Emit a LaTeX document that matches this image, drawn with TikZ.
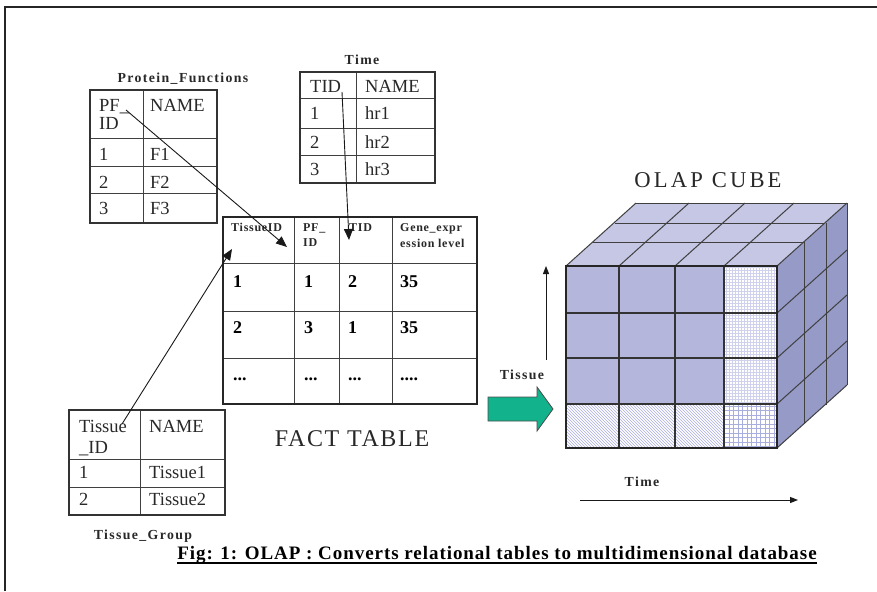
\documentclass[tikz,border=0pt]{standalone}
\usepackage{fontspec}
\setmainfont{Liberation Serif}
\usetikzlibrary{arrows.meta,patterns}

\definecolor{cubefront}{RGB}{180,182,219}
\definecolor{cubetop}{RGB}{197,199,229}
\definecolor{cubeside}{RGB}{150,154,199}
\definecolor{hatchcol}{RGB}{170,174,222}
\definecolor{finegrid}{RGB}{208,210,237}
\definecolor{arrowgreen}{RGB}{18,178,140}
\definecolor{inkgray}{RGB}{40,40,40}

% coarse square grid used for the corner cell of the cube
\pgfdeclarepatternformonly{coarsegrid}{\pgfqpoint{-1pt}{-1pt}}{\pgfqpoint{5.5pt}{5.5pt}}{\pgfqpoint{4.5pt}{4.5pt}}{%
  \pgfsetlinewidth{1pt}%
  \pgfpathmoveto{\pgfqpoint{0pt}{0pt}}\pgfpathlineto{\pgfqpoint{4.5pt}{0pt}}%
  \pgfpathmoveto{\pgfqpoint{0pt}{0pt}}\pgfpathlineto{\pgfqpoint{0pt}{4.5pt}}%
  \pgfusepath{stroke}}

\newcommand\celltxt{\fontsize{18.5}{19}\selectfont}
\newcommand\headtxt{\fontsize{12}{13}\selectfont\bfseries\addfontfeature{LetterSpace=6}}
\newcommand\datatxt{\fontsize{18}{19}\selectfont\bfseries}
\newcommand\labtxt{\fontsize{13.8}{15}\selectfont\bfseries\addfontfeature{LetterSpace=10}}

\tikzset{
  tabout/.style={line width=2.2pt, draw=black!80},
  tabin/.style={line width=1pt, draw=black!75},
  cell/.style={anchor=base west, inner sep=0pt, font=\celltxt, text=inkgray},
  hcell/.style={anchor=base west, inner sep=0pt, font=\headtxt, text=inkgray},
  dcell/.style={anchor=base west, inner sep=0pt, font=\datatxt, text=black},
  lab/.style={anchor=base, inner sep=0pt, font=\labtxt, text=inkgray},
  conn/.style={line width=0.9pt, draw=black!90, -{Triangle[length=11pt,width=9pt]}},
  axis/.style={line width=1pt, draw=black!90, -{Triangle[length=8pt,width=6pt]}},
  cubeline/.style={line width=1pt, draw=black!75},
}

\begin{document}
\begin{tikzpicture}[x=1pt,y=-1pt]
\useasboundingbox (0,0) rectangle (877,591);

% page frame
\draw[line width=2.4pt, black!85] (5,591) -- (5,7) -- (877,7);

% ---------------- Protein_Functions table
\draw[tabin] (143,90) -- (143,223) (90,138) -- (217,138) (90,166) -- (217,166) (90,193) -- (217,193);
\draw[tabout] (90,90) rectangle (217,223);
\node[lab] (pftitle) at (183,83) {Protein\_Functions};
\node[cell] (pfa) at (99,112) {PF\_};
\node[cell] (pfb) at (99,129) {ID};
\node[cell] (pfn) at (150,112) {NAME};
\node[cell] (pf1) at (99,160) {1};
\node[cell] (pf1n) at (150,160) {F1};
\node[cell] (pf2) at (99,188) {2};
\node[cell] (pf2n) at (150,188) {F2};
\node[cell] (pf3) at (99,214) {3};
\node[cell] (pf3n) at (150,214) {F3};

% ---------------- Time table
\draw[tabin] (356,72) -- (356,183) (300,99) -- (435,99) (300,128) -- (435,128) (300,155) -- (435,155);
\draw[tabout] (300,72) rectangle (435,183);
\node[lab] (ttitle) at (362,65) {Time};
\node[cell] (tid) at (310,93) {TID};
\node[cell] (tname) at (365,93) {NAME};
\node[cell] (t1) at (310,120) {1};
\node[cell] (t1n) at (365,120) {hr1};
\node[cell] (t2) at (310,148) {2};
\node[cell] (t2n) at (365,148) {hr2};
\node[cell] (t3) at (310,175) {3};
\node[cell] (t3n) at (365,175) {hr3};

% ---------------- Tissue_Group table
\draw[tabin] (140,410) -- (140,515) (69,459) -- (225,459) (69,487) -- (225,487);
\draw[tabout] (69,410) rectangle (225,515);
\node[cell] (tga) at (79,432) {Tissue};
\node[cell] (tgb) at (79,453) {\_ID};
\node[cell] (tgn) at (149,432) {NAME};
\node[cell] (tg1) at (79,478) {1};
\node[cell] (tg1n) at (149,478) {Tissue1};
\node[cell] (tg2) at (79,505) {2};
\node[cell] (tg2n) at (149,505) {Tissue2};
\node[lab] (tgtitle) at (143,539) {Tissue\_Group};

% ---------------- Fact table
\draw[tabin] (294,217) -- (294,404) (339,217) -- (339,404) (392,217) -- (392,404)
  (223,263) -- (477,263) (223,311) -- (477,311) (223,358) -- (477,358);
\draw[line width=2.6pt, draw=black!85] (223,217) rectangle (477,404);
\node[hcell] (fh1) at (231,231) {TissueID};
\node[hcell] (fh2a) at (303,231) {PF\_};
\node[hcell] (fh2b) at (303,246) {ID};
\node[hcell] (fh3) at (349,231) {TID};
\node[hcell] (fh4a) at (400,231) {Gene\_expr};
\node[hcell] (fh4b) at (400,247) {ession level};
\node[dcell] (f11) at (233,287) {1};
\node[dcell] (f12) at (304,287) {1};
\node[dcell] (f13) at (348,287) {2};
\node[dcell] (f14) at (400,287) {35};
\node[dcell] (f21) at (233,333) {2};
\node[dcell] (f22) at (304,333) {3};
\node[dcell] (f23) at (348,333) {1};
\node[dcell] (f24) at (400,333) {35};
\node[dcell] (f31) at (233,380) {...};
\node[dcell] (f32) at (304,380) {...};
\node[dcell] (f33) at (348,380) {...};
\node[dcell] (f34) at (400,380) {....};
\node[anchor=base, inner sep=0pt, font=\fontsize{24}{26}\selectfont\addfontfeature{LetterSpace=7}, text=inkgray] (facttitle) at (352,446) {FACT TABLE};

% ---------------- key connectors
\coordinate (pfsrc) at (126,110);
\coordinate (pftgt) at (287,247);
\draw[conn] (pfsrc) -- (pftgt);
\coordinate (tidsrc) at (342,92);
\coordinate (tidtgt) at (349,240);
\draw[conn] (tidsrc) -- (tidtgt);
\coordinate (tgsrc) at (122,424);
\coordinate (tgtgt) at (232,249);
\draw[conn] (tgsrc) -- (tgtgt);

% ---------------- OLAP cube
\node[anchor=base, inner sep=0pt, font=\fontsize{22.6}{24}\selectfont\addfontfeature{LetterSpace=14}, text=inkgray] (cubetitle) at (708,187) {OLAP CUBE};

% top face
\fill[cubetop] (566,266) -- (777,266) -- (847,203) -- (636,203) -- cycle;
\foreach \x in {566,619,675,724} \draw[cubeline] (\x,266) -- ++(70,-63);
\foreach \dx/\dy in {27/-24,49/-43,70/-63} \draw[cubeline] (566+\dx,266+\dy) -- (777+\dx,266+\dy);

% right face
\fill[cubeside] (777,266) -- (847,203) -- (847,385) -- (777,448) -- cycle;
\foreach \y in {266,313,358,404,448} \draw[cubeline] (777,\y) -- ++(70,-63);
\foreach \dx/\dy in {27/-24,49/-43,70/-63} \draw[cubeline] (777+\dx,266+\dy) -- (777+\dx,448+\dy);

% front face
\fill[cubefront] (566,266) rectangle (724,404);
\fill[white] (724,266) rectangle (777,404);
\fill[pattern=grid, pattern color=finegrid] (724,266) rectangle (777,404);
\fill[white] (566,404) rectangle (777,448);
\fill[pattern=north west lines, pattern color=hatchcol] (566,404) rectangle (724,448);
\fill[pattern=coarsegrid, pattern color=hatchcol] (724,404) rectangle (777,448);
\draw[line width=1.4pt, draw=black!80] (619,266) -- (619,448) (675,266) -- (675,448) (724,266) -- (724,448)
  (566,313) -- (777,313) (566,358) -- (777,358) (566,404) -- (777,404);
\draw[line width=2.8pt, draw=black!85] (566,266) rectangle (777,448);

% axes and labels
\coordinate (tisaxA) at (546,360);
\coordinate (tisaxB) at (546,266);
\draw[axis] (tisaxA) -- (tisaxB);
\node[lab] (tislab) at (522,379) {Tissue};
\coordinate (timeaxA) at (580,500);
\coordinate (timeaxB) at (798,500);
\draw[axis] (timeaxA) -- (timeaxB);
\node[lab] (timelab) at (642,486) {Time};

% green block arrow
\draw[line width=0.8pt, draw=black!70, fill=arrowgreen] (488,397) -- (537,397) -- (537,387) -- (553,409)
  -- (537,431) -- (537,421) -- (488,421) -- cycle;

% ---------------- caption
\node[anchor=base, inner sep=0pt, font=\fontsize{19}{21}\selectfont\bfseries\addfontfeature{LetterSpace=5}, text=black] (caption) at (497,559)
  {Fig: 1: OLAP : Converts relational tables to multidimensional database};
\draw[line width=1.5pt] ([yshift=-4pt]caption.base west) -- ([yshift=-4pt]caption.base east);
\end{tikzpicture}
\end{document}
